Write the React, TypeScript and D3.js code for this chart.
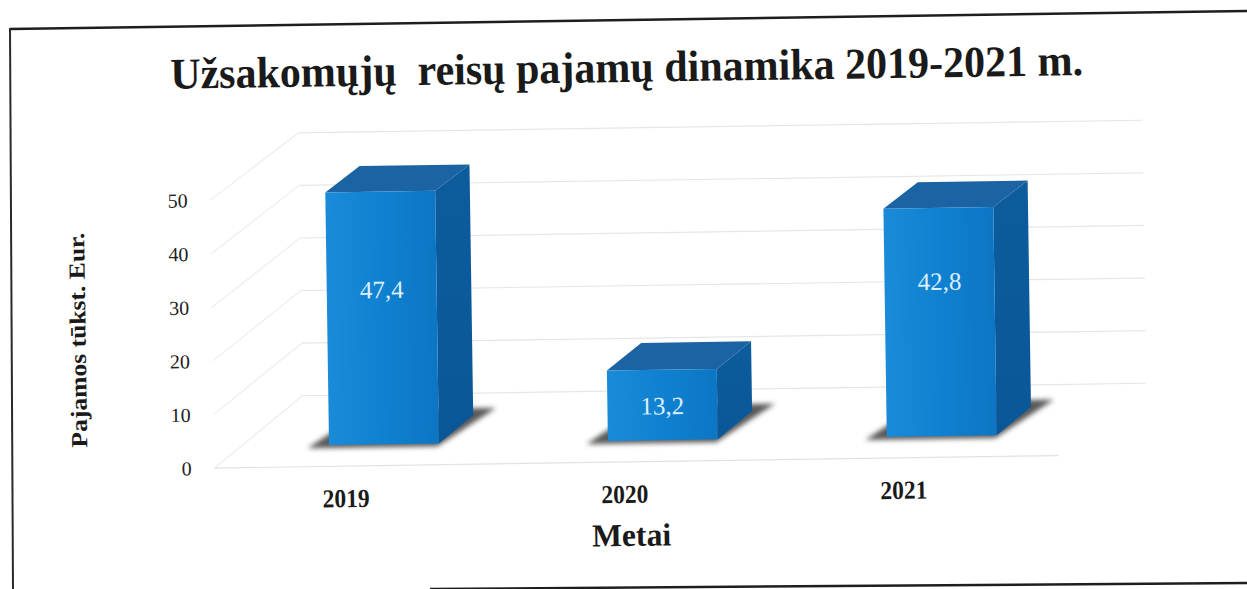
import React from "react";
import * as d3 from "d3";

const years = ["2019", "2020", "2021"];
const revenue = [47.4, 13.2, 42.8];
const valueLabels = ["47,4", "13,2", "42,8"];
const yTicks = [0, 10, 20, 30, 40, 50];

const W = 1247;
const H = 589;

// oblique 3D projection parameters
const DX = 89;
const DY = 71;
const FRONT0 = 462;
const KFRONT = 5.36;
const KBACK = 5.26;

const xBand = d3
  .scaleBand<string>()
  .domain(years)
  .range([212, 1056])
  .paddingInner(0.606)
  .paddingOuter(0.316);

const yFront = d3.scaleLinear().domain([0, 50]).range([FRONT0, FRONT0 - 50 * KFRONT]);
const yBack = d3.scaleLinear().domain([0, 50]).range([FRONT0 - DY, FRONT0 - DY - 50 * KBACK]);

function proj(x: number, v: number, z: number): [number, number] {
  const y = yFront(v) * (1 - z) + yBack(v) * z;
  return [x + z * DX, y];
}

function poly(pts: [number, number][]) {
  return pts.map((p) => p.join(",")).join(" ");
}

const Z0 = 0.3;
const Z1 = 0.69;

export default function App() {
  const serif = "Liberation Serif";
  const bw = xBand.bandwidth();
  const wallLeft = 212;
  const wallRight = 1056;

  return (
    <svg
      width={W}
      height={H}
      viewBox={`0 0 ${W} ${H}`}
      style={{ position: "absolute", left: 0, top: 0, background: "#fff" }}
    >
      <defs>
        <linearGradient id="front" x1="0" x2="1" y1="0" y2="0">
          <stop offset="0" stopColor="#1a8bd8" />
          <stop offset="0.5" stopColor="#0f81d0" />
          <stop offset="1" stopColor="#0c76c4" />
        </linearGradient>
        <linearGradient id="side" x1="0" x2="0" y1="0" y2="1">
          <stop offset="0" stopColor="#0c5c9e" />
          <stop offset="1" stopColor="#0a5798" />
        </linearGradient>
        <filter id="blur" x="-20%" y="-50%" width="140%" height="200%">
          <feGaussianBlur stdDeviation="2.5" />
        </filter>
      </defs>
      <rect x={0} y={0} width={W} height={H} fill="#fff" />

      {/* scanned frame */}
      <line x1={10} y1={29} x2={1247} y2={11} stroke="#1e1e1e" strokeWidth={2.5} />
      <line x1={10} y1={28} x2={13} y2={589} stroke="#2a2a2a" strokeWidth={2} />
      <line x1={430} y1={589} x2={1247} y2={583} stroke="#1e1e1e" strokeWidth={2.5} />

      <g transform="rotate(-0.85 623 295)">
        {/* title */}
        <text
          x={630}
          y={82}
          textAnchor="middle"
          fontFamily={serif}
          fontWeight="bold"
          fontSize={44}
          fill="#1a1a1a"
          textLength={913}
          lengthAdjust="spacingAndGlyphs"
          style={{ whiteSpace: "pre" }}
        >
          {"Užsakomųjų  reisų pajamų dinamika 2019-2021 m."}
        </text>

        {/* gridlines: back wall + side wall */}
        {yTicks.map((t) => {
          const [bx0, by0] = proj(wallLeft, t, 1);
          const [bx1, by1] = proj(wallRight, t, 1);
          const [fx, fy] = proj(wallLeft, t, 0);
          return (
            <g key={t}>
              <line x1={bx0} y1={by0} x2={bx1} y2={by1} stroke="#e6e6e6" strokeWidth={1.2} />
              <line x1={fx} y1={fy} x2={bx0} y2={by0} stroke="#ededed" strokeWidth={1.2} />
            </g>
          );
        })}
        {/* floor front edge */}
        {(() => {
          const [x0, y0] = proj(wallLeft, 0, 0);
          const [x1, y1] = proj(wallRight, 0, 0);
          return <line x1={x0} y1={y0} x2={x1} y2={y1} stroke="#e2e2e2" strokeWidth={1.2} />;
        })()}

        {/* y tick labels */}
        {yTicks.map((t) => (
          <text
            key={"yt" + t}
            x={189}
            y={yFront(t)}
            textAnchor="end"
            dominantBaseline="central"
            fontFamily={serif}
            fontSize={20}
            fill="#222"
          >
            {t}
          </text>
        ))}

        {/* bars */}
        {years.map((yr, i) => {
          const v = revenue[i];
          const x0 = xBand(yr)!;
          const x1 = x0 + bw;
          const shadow = poly([
            proj(x0 - 18, 0, Z0 - 0.04),
            proj(x1 + 2, 0, Z0 - 0.04),
            proj(x1 + 14, 0, Z1 + 0.1),
            proj(x0 - 6, 0, Z1 + 0.1),
          ]);
          const front = poly([proj(x0, 0, Z0), proj(x1, 0, Z0), proj(x1, v, Z0), proj(x0, v, Z0)]);
          const side = poly([proj(x1, 0, Z0), proj(x1, 0, Z1), proj(x1, v, Z1), proj(x1, v, Z0)]);
          const top = poly([proj(x0, v, Z0), proj(x1, v, Z0), proj(x1, v, Z1), proj(x0, v, Z1)]);
          const [, topY] = proj(x0, v, Z0);
          const [, botY] = proj(x0, 0, Z0);
          const mid = (topY + botY) / 2;
          const ly = Math.max(topY + 36, Math.min(mid, 286));
          return (
            <g key={yr}>
              <polygon points={shadow} fill="#3a3a3a" opacity={0.85} filter="url(#blur)" />
              <polygon points={side} fill="url(#side)" />
              <polygon points={top} fill="#1b63a3" />
              <polygon points={front} fill="url(#front)" />
              <text
                x={(x0 + x1) / 2 + Z0 * DX}
                y={ly}
                textAnchor="middle"
                dominantBaseline="central"
                fontFamily={serif}
                fontSize={25}
                fill="#dcefff"
              >
                {valueLabels[i]}
              </text>
            </g>
          );
        })}

        {/* x labels */}
        {years.map((yr) => (
          <text
            key={"xl" + yr}
            x={xBand(yr)! + bw / 2 - 12}
            y={503}
            textAnchor="middle"
            fontFamily={serif}
            fontWeight="bold"
            fontSize={26}
            fill="#1a1a1a"
            textLength={47}
            lengthAdjust="spacingAndGlyphs"
          >
            {yr}
          </text>
        ))}

        {/* x axis title */}
        <text
          x={628}
          y={546}
          textAnchor="middle"
          fontFamily={serif}
          fontWeight="bold"
          fontSize={32}
          fill="#1a1a1a"
          textLength={79}
          lengthAdjust="spacingAndGlyphs"
        >
          Metai
        </text>

        {/* y axis title */}
        <text
          transform="translate(85,332) rotate(-90)"
          textAnchor="middle"
          fontFamily={serif}
          fontWeight="bold"
          fontSize={23}
          fill="#1a1a1a"
          textLength={215}
          lengthAdjust="spacingAndGlyphs"
        >
          Pajamos tūkst. Eur.
        </text>
      </g>
    </svg>
  );
}
